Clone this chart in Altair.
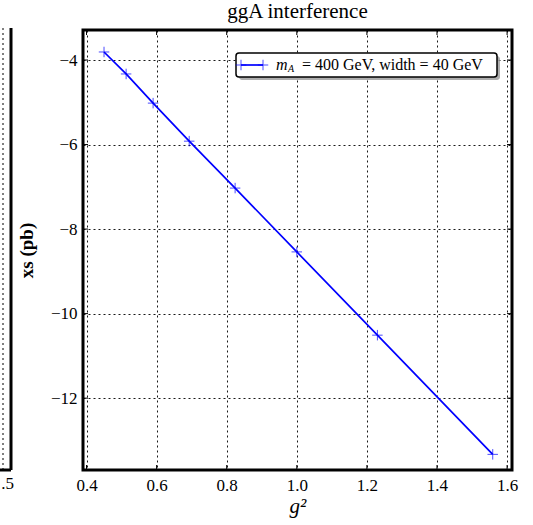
import altair as alt
import pandas as pd

# data
g2 = [0.45, 0.513, 0.59, 0.693, 0.824, 1.0, 1.23, 1.559]
xs = [-3.81, -4.33, -5.02, -5.92, -7.03, -8.54, -10.51, -13.33]
x_ticks = [0.4, 0.6, 0.8, 1.0, 1.2, 1.4, 1.6]
y_ticks = [-4, -6, -8, -10, -12]
legend_label = "= 400 GeV, width = 40 GeV"

df = pd.DataFrame({"g2": g2, "xs": xs})
xt = pd.DataFrame({"g2": x_ticks})
yt = pd.DataFrame({"xs": y_ticks})
FONT = "Liberation Serif"
BLUE = "#0000ff"
W, H = 429, 440

xscale = alt.Scale(domain=[0.39, 1.614], nice=False, zero=False)
yscale = alt.Scale(domain=[-13.7, -3.29], nice=False, zero=False)

xenc = alt.X("g2:Q", scale=xscale,
             axis=alt.Axis(values=x_ticks, format=".1f", title="g²", titleFont=FONT,
                           titleFontStyle="italic", labelFont=FONT,
                           titleFontWeight="normal", titleFontSize=21, titlePadding=2,
                           labelFontSize=17, labelPadding=7))
yenc = alt.Y("xs:Q", scale=yscale,
             axis=alt.Axis(values=y_ticks, format="d", title="xs (pb)", titleFont=FONT,
                           labelFont=FONT, titleFontWeight="bold",
                           titleFontSize=19, titlePadding=14, labelFontSize=17, labelPadding=6))

base = alt.Chart(df).encode(x=xenc, y=yenc)
line = base.mark_line(color=BLUE, strokeWidth=1.7)
pts = base.mark_point(shape="M-1,0L1,0M0,-1L0,1", size=110, filled=False,
                      color=BLUE, strokeWidth=1)

# inward ticks on all four sides
tb = alt.Chart(xt).mark_rule(color="black", strokeWidth=1).encode(
    x=xenc, y=alt.value(H - 5), y2=alt.value(H))
tt = alt.Chart(xt).mark_rule(color="black", strokeWidth=1).encode(
    x=xenc, y=alt.value(0), y2=alt.value(5))
tl = alt.Chart(yt).mark_rule(color="black", strokeWidth=1).encode(
    y=yenc, x=alt.value(0), x2=alt.value(5))
tr = alt.Chart(yt).mark_rule(color="black", strokeWidth=1).encode(
    y=yenc, x=alt.value(W - 5), x2=alt.value(W))

one = alt.Data(values=[{"a": 1}])
# legend box
shadow = alt.Chart(one).mark_rect(color="#9a9a9a", cornerRadius=3, opacity=0.8).encode(
    x=alt.value(156), x2=alt.value(417), y=alt.value(26), y2=alt.value(50))
box = alt.Chart(one).mark_rect(fill="white", stroke="black", strokeWidth=1.5, cornerRadius=3).encode(
    x=alt.value(153), x2=alt.value(414), y=alt.value(23), y2=alt.value(47))
lline = alt.Chart(one).mark_rule(color=BLUE, strokeWidth=1.7).encode(
    x=alt.value(158), x2=alt.value(180), y=alt.value(35))
lp1 = alt.Chart(one).mark_point(shape="M-1,0L1,0M0,-1L0,1", size=110, filled=False,
                                color=BLUE, strokeWidth=1).encode(x=alt.value(158), y=alt.value(35))
lp2 = alt.Chart(one).mark_point(shape="M-1,0L1,0M0,-1L0,1", size=110, filled=False,
                                color=BLUE, strokeWidth=1).encode(x=alt.value(180), y=alt.value(35))
tm = alt.Chart(one).mark_text(font=FONT, fontStyle="italic", fontSize=16, align="left",
                              baseline="middle").encode(x=alt.value(193), y=alt.value(35), text=alt.value("m"))
tA = alt.Chart(one).mark_text(font=FONT, fontStyle="italic", fontSize=10, align="left",
                              baseline="middle").encode(x=alt.value(205), y=alt.value(39), text=alt.value("A"))
trest = alt.Chart(one).mark_text(font=FONT, fontSize=16, align="left",
                                 baseline="middle").encode(x=alt.value(219), y=alt.value(35),
                                                           text=alt.value(legend_label))

# remnant of neighbouring panel at the left edge
rem_border = alt.Chart(one).mark_rule(color="black", strokeWidth=3).encode(
    x=alt.value(-72), y=alt.value(-2), y2=alt.value(440))
rem_bottom = alt.Chart(one).mark_rule(color="black", strokeWidth=3).encode(
    x=alt.value(-90), x2=alt.value(-72), y=alt.value(440))
rem_grid = alt.Chart(one).mark_rule(color="black", strokeWidth=1, strokeDash=[2, 3]).encode(
    x=alt.value(-80), y=alt.value(-2), y2=alt.value(440))
rem_text = alt.Chart(one).mark_text(font=FONT, fontSize=17, align="right", baseline="top").encode(
    x=alt.value(-69), y=alt.value(446), text=alt.value(".5"))

chart = alt.layer(line, pts, tb, tt, tl, tr, shadow, box, lline, lp1, lp2, tm, tA, trest,
                  rem_border, rem_bottom, rem_grid, rem_text).properties(
    width=W, height=H,
    background="white",
    title=alt.TitleParams("ggA interference", font=FONT, fontSize=21, fontWeight="normal",
                          color="black", offset=5),
    padding={"left": 83, "top": 30, "right": 21, "bottom": 55},
    autosize="none",
).configure_view(stroke="black", strokeWidth=3).configure_axis(
    labelFont=FONT, titleFont=FONT, labelColor="black", titleColor="black",
    grid=True, gridColor="black", gridDash=[2, 3], gridWidth=1, gridOpacity=0.9,
    domain=False, ticks=False,
)

chart.save("out.html", embed_options={"renderer": "svg", "actions": False})
